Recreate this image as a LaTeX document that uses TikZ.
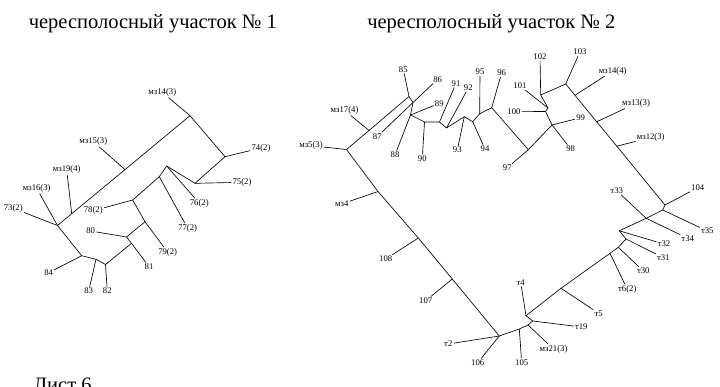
\documentclass[tikz,border=0pt]{standalone}
\usepackage{fontspec}
\setmainfont{Liberation Serif}
\begin{document}
\begin{tikzpicture}[x=1pt,y=-1pt,line width=0.65pt,
  lbl/.style={font=\fontsize{8.7}{9}\selectfont,inner sep=1pt},
  ttl/.style={font=\fontsize{20.5}{22}\selectfont,anchor=base west,inner sep=0pt}]
\useasboundingbox (0,0) rectangle (720,387);
% titles
\node[ttl] (t1) at (28.5,28.5) {чересполосный участок № 1};
\node[ttl] (t2title) at (367,28.5) {чересполосный участок № 2};
\node[ttl] (list) at (33,391.5) {Лист 6};
% ---------- tree 1 ----------
\coordinate (a1) at (190,115.7);
\coordinate (b1) at (225,156.7);
\coordinate (c1) at (195,183.3);
\coordinate (d1) at (166.7,166);
\coordinate (e1) at (159.3,176.7);
\coordinate (f1) at (132.7,200);
\coordinate (g1) at (145,221.7);
\coordinate (h1) at (126.5,237);
\coordinate (i1) at (131.5,243.3);
\coordinate (j1) at (105.5,264.5);
\coordinate (k1) at (96,259.3);
\coordinate (l1) at (81.7,255.7);
\coordinate (m1) at (57.5,225.5);
\coordinate (s19) at (71.7,213.7);
\coordinate (s15) at (125,169.6);
\node[lbl] (n14) at (162.3,92.3) {мз14(3)};
\node[lbl] (n74) at (261,148) {74(2)};
\node[lbl] (n75) at (242,182.3) {75(2)};
\node[lbl] (n76) at (199.3,203.3) {76(2)};
\node[lbl] (n77) at (187.7,228.3) {77(2)};
\node[lbl] (n78) at (93.3,210.7) {78(2)};
\node[lbl] (n79) at (167.7,252.3) {79(2)};
\node[lbl] (n80) at (90.7,231) {80};
\node[lbl] (n81) at (149,266.7) {81};
\node[lbl] (n82) at (107.3,291) {82};
\node[lbl] (n83) at (88.7,291) {83};
\node[lbl] (n84) at (48.7,272.7) {84};
\node[lbl] (n73) at (13.3,208.3) {73(2)};
\node[lbl] (n16) at (36.7,188.3) {мз16(3)};
\node[lbl] (n19) at (66.7,169.7) {мз19(4)};
\node[lbl] (n15) at (93.3,141.7) {мз15(3)};
\draw (m1) -- (s19) -- (s15) -- (a1) -- (b1) -- (c1) -- (d1) -- (e1) -- (f1) -- (g1) -- (h1) -- (i1) -- (j1) -- (k1) -- (l1) -- (m1);
\draw (a1) -- (n14);
\draw (b1) -- (n74);
\draw (c1) -- (n75);
\draw (d1) -- (n76);
\draw (e1) -- (n77);
\draw (f1) -- (n78);
\draw (g1) -- (n79);
\draw (h1) -- (n80);
\draw (i1) -- (n81);
\draw (j1) -- (n82);
\draw (k1) -- (n83);
\draw (l1) -- (n84);
\draw (m1) -- (n73);
\draw (m1) -- (n16);
\draw (s19) -- (n19);
\draw (s15) -- (n15);
% ---------- tree 2 ----------
\coordinate (P) at (346.5,149.5);
\coordinate (S17) at (369,130.5);
\coordinate (Q85) at (409,96.5);
\coordinate (R) at (413,102.5);
\coordinate (S) at (410.5,115);
\coordinate (T) at (424.5,122);
\coordinate (U) at (439.5,122);
\coordinate (V) at (446.5,128);
\coordinate (W) at (464.3,116.7);
\coordinate (X) at (472.7,121.7);
\coordinate (Y) at (479.7,113.8);
\coordinate (Z) at (491.7,107.7);
\coordinate (AA) at (528.3,149.7);
\coordinate (AB) at (552,125);
\coordinate (AC) at (545.5,111.5);
\coordinate (AD) at (548,108);
\coordinate (AE) at (540.7,95);
\coordinate (AF) at (565.7,84);
\coordinate (G14) at (575,95.3);
\coordinate (G13) at (596.7,121.8);
\coordinate (G12) at (616.7,146.1);
\coordinate (BA) at (665,205);
\coordinate (BB) at (662.7,210);
\coordinate (BC) at (646.2,218.3);
\coordinate (BD) at (619.3,230.8);
\coordinate (BE) at (626,239);
\coordinate (BF) at (618.3,247.3);
\coordinate (BG) at (610,253.3);
\coordinate (BH) at (561,288.3);
\coordinate (BI) at (526,315.7);
\coordinate (BJ) at (532.7,321);
\coordinate (BK) at (528,325);
\coordinate (BL) at (519.3,329);
\coordinate (BM) at (499.3,336);
\coordinate (J107) at (452.3,279);
\coordinate (J108) at (418.3,238);
\coordinate (J4) at (378,191.5);
\node[lbl] (m5) at (311,145.7) {мз5(3)};
\node[lbl] (m17) at (344.5,110.3) {мз17(4)};
\node[lbl] (l85) at (403.3,69.2) {85};
\node[lbl] (l86) at (437.7,79.3) {86};
\node[lbl] (l87) at (377.3,136.5) {87};
\node[lbl] (l88) at (395,155) {88};
\node[lbl] (l89) at (439.3,103.3) {89};
\node[lbl] (l90) at (422.3,158.3) {90};
\node[lbl] (l91) at (456,83.3) {91};
\node[lbl] (l92) at (468.3,88) {92};
\node[lbl] (l93) at (457.3,150) {93};
\node[lbl] (l94) at (485,149) {94};
\node[lbl] (l95) at (480,71.7) {95};
\node[lbl] (l96) at (501.7,72.7) {96};
\node[lbl] (l97) at (507.3,167.8) {97};
\node[lbl] (l98) at (570.7,149) {98};
\node[lbl] (l99) at (580.7,117.7) {99};
\node[lbl] (l100) at (514,111.7) {100};
\node[lbl] (l101) at (520,86) {101};
\node[lbl] (l102) at (540,56.7) {102};
\node[lbl] (l103) at (580,51.7) {103};
\node[lbl] (m14) at (612.7,71) {мз14(4)};
\node[lbl] (m13) at (636,103.3) {мз13(3)};
\node[lbl] (m12) at (650.7,137.7) {мз12(3)};
\node[lbl] (l104) at (697.7,187.7) {104};
\node[lbl] (t35) at (707.3,231) {т35};
\node[lbl] (t34) at (687.7,238.3) {т34};
\node[lbl] (t33) at (616.7,190.7) {т33};
\node[lbl] (t32) at (664,244) {т32};
\node[lbl] (t31) at (663.3,257.7) {т31};
\node[lbl] (t30) at (643.3,271) {т30};
\node[lbl] (t6) at (627.3,289.3) {т6(2)};
\node[lbl] (t5) at (598.7,313.3) {т5};
\node[lbl] (t4) at (520.7,282.3) {т4};
\node[lbl] (t19) at (581.3,327) {т19};
\node[lbl] (m21) at (553.5,349) {мз21(3)};
\node[lbl] (l105) at (521.7,362.7) {105};
\node[lbl] (l106) at (477.7,362.7) {106};
\node[lbl] (t2) at (448.3,344) {т2};
\node[lbl] (l107) at (425.7,300.7) {107};
\node[lbl] (l108) at (385.7,259) {108};
\node[lbl] (m4) at (341.7,204) {мз4};
% backbone
\draw (P) -- (S17) -- (Q85) -- (R) -- (S) -- (T) -- (U) -- (V) -- (W) -- (X) -- (Y) -- (Z) -- (AA) -- (AB) -- (AC) -- (AD) -- (AE) -- (AF) -- (G14) -- (G13) -- (G12) -- (BA) -- (BB) -- (BC) -- (BD) -- (BE) -- (BF) -- (BG) -- (BH) -- (BI) -- (BJ) -- (BK) -- (BL) -- (BM) -- (J107) -- (J108) -- (J4) -- (P);
% leaves
\draw (P) -- (m5);
\draw (S17) -- (m17);
\draw (Q85) -- (l85);
\draw (R) -- (l86);
\draw (R) -- (l87);
\draw (S) -- (l88);
\draw (S) -- (l89);
\draw (T) -- (l90);
\draw (U) -- (l91);
\draw (V) -- (l92);
\draw (W) -- (l93);
\draw (X) -- (l94);
\draw (Y) -- (l95);
\draw (Z) -- (l96);
\draw (AA) -- (l97);
\draw (AB) -- (l98);
\draw (AB) -- (l99);
\draw (AC) -- (l100);
\draw (AD) -- (l101);
\draw (AE) -- (l102);
\draw (AF) -- (l103);
\draw (G14) -- (m14);
\draw (G13) -- (m13);
\draw (G12) -- (m12);
\draw (BA) -- (l104);
\draw (BB) -- (t35);
\draw (BC) -- (t34);
\draw (BC) -- (t33);
\draw (BD) -- (t32);
\draw (BE) -- (t31);
\draw (BF) -- (t30);
\draw (BG) -- (t6);
\draw (BH) -- (t5);
\draw (BI) -- (t4);
\draw (BJ) -- (t19);
\draw (BK) -- (m21);
\draw (BL) -- (l105);
\draw (BM) -- (l106);
\draw (BM) -- (t2);
\draw (J107) -- (l107);
\draw (J108) -- (l108);
\draw (J4) -- (m4);
\end{tikzpicture}
\end{document}
